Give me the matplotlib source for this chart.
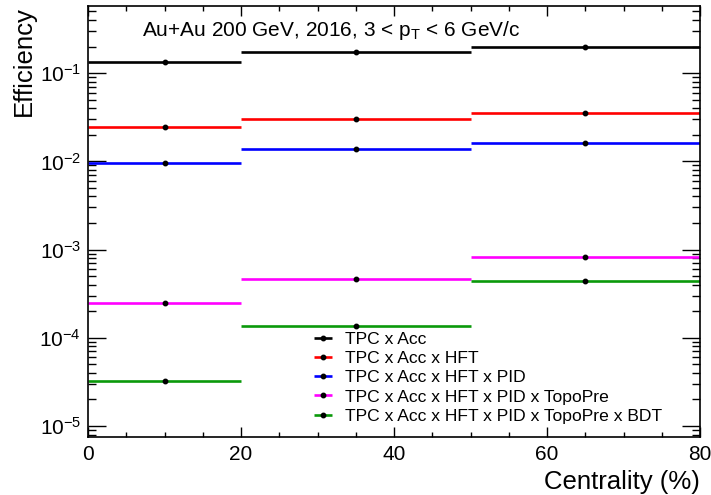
import matplotlib
matplotlib.use('Agg')
import matplotlib.pyplot as plt
import numpy as np
from matplotlib.ticker import LogLocator, MultipleLocator, NullFormatter

plt.rcParams['font.family'] = ['Liberation Sans', 'DejaVu Sans']
plt.rcParams['mathtext.fontset'] = 'custom'
plt.rcParams['mathtext.rm'] = 'Liberation Sans'
plt.rcParams['mathtext.it'] = 'Liberation Sans:italic'

# centrality bins (%)
bin_lo = [0, 20, 50]
bin_hi = [20, 50, 80]

labels = ['TPC x Acc',
          'TPC x Acc x HFT',
          'TPC x Acc x HFT x PID',
          'TPC x Acc x HFT x PID x TopoPre',
          'TPC x Acc x HFT x PID x TopoPre x BDT']
colors = ['black', '#ff0000', '#0000ff', '#ff00ff', '#0a990a']

eff_tpc = [0.134, 0.172, 0.196]
eff_hft = [0.0245, 0.0300, 0.0351]
eff_pid = [0.00966, 0.0138, 0.0163]
eff_topo = [2.50e-4, 4.60e-4, 8.26e-4]
eff_bdt = [3.25e-5, 1.36e-4, 4.45e-4]
all_eff = [eff_tpc, eff_hft, eff_pid, eff_topo, eff_bdt]

fig = plt.figure(figsize=(7.11, 4.95), dpi=100)
ax = fig.add_axes([88/711, 58/495, 612/711, 431/495])

lo = np.array(bin_lo, dtype=float)
hi = np.array(bin_hi, dtype=float)
xc = (lo + hi) / 2
xe = (hi - lo) / 2

for eff, c, lab in zip(all_eff, colors, labels):
    ax.errorbar(xc, eff, xerr=xe, fmt='o', ms=3.2, mfc='k', mec='k',
                ecolor=c, elinewidth=1.9, capsize=0, label=lab)

ax.set_yscale('log')
ax.set_xlim(0, 80)
ax.set_ylim(7.5e-6, 0.577)

ax.xaxis.set_major_locator(MultipleLocator(20))
ax.xaxis.set_minor_locator(MultipleLocator(5))
ax.yaxis.set_major_locator(LogLocator(base=10, numticks=20))
ax.yaxis.set_minor_locator(LogLocator(base=10, subs=np.arange(2, 10), numticks=20))
ax.yaxis.set_minor_formatter(NullFormatter())

ax.tick_params(which='both', direction='in', top=True, right=True, labelsize=15)
ax.tick_params(axis='x', which='major', length=7, width=1.0, pad=6)
ax.tick_params(axis='x', which='minor', length=3.5, width=1.0)
ax.tick_params(axis='y', which='major', length=13, width=1.0, pad=5)
ax.tick_params(axis='y', which='minor', length=5.5, width=1.0)
for s in ax.spines.values():
    s.set_linewidth(1.2)

ax.set_xlabel('Centrality (%)', fontsize=18.5, loc='right', labelpad=4)
ax.set_ylabel('Efficiency', fontsize=18.5, loc='top')
ax.yaxis.set_label_coords(-0.085, 1.0)

fig.text(142/711, (495-36)/495,
         r'Au+Au 200 GeV, 2016, 3 < $\mathregular{p_{T}}$ < 6 GeV/c',
         fontsize=15, ha='left', va='baseline')

ax.legend(loc='upper left', bbox_to_anchor=(309/711, (495-332)/495),
          bbox_transform=fig.transFigure, frameon=False, fontsize=12.6,
          borderpad=0, borderaxespad=0, handlelength=1.6,
          handletextpad=0.45, labelspacing=0.22)

fig.savefig('out.png', dpi=100)
